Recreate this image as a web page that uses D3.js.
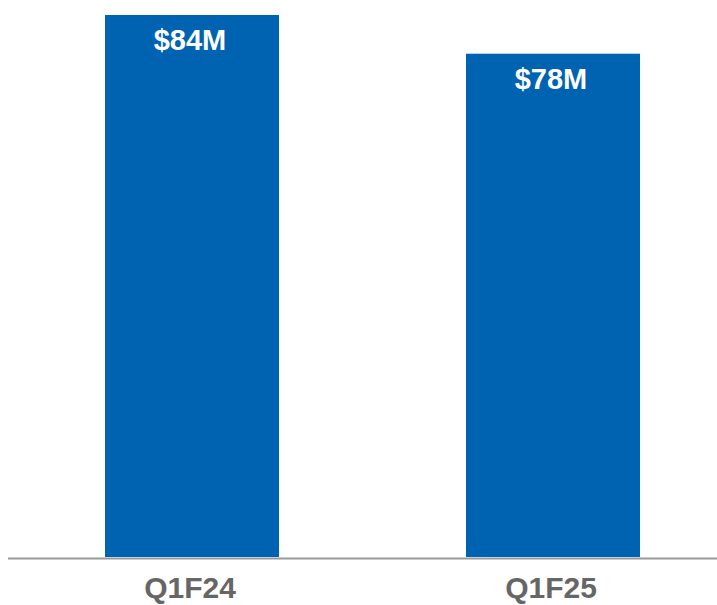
<!DOCTYPE html>
<html>
<head>
<meta charset="utf-8">
<script src="https://cdn.jsdelivr.net/npm/d3@7"></script>
<style>
  body { margin: 0; background: #fff; }
</style>
</head>
<body>
<script>
var categories = ["Q1F24", "Q1F25"];
var values = [84, 78];
var valueLabels = ["$84M", "$78M"];

var width = 717, height = 605;
var baseline = 557;

var svg = d3.select("body").append("svg")
    .attr("width", width)
    .attr("height", height);

var x = d3.scaleBand()
    .domain(categories)
    .range([0, 745])
    .paddingInner(0.518)
    .paddingOuter(0.2909);

var y = d3.scaleLinear()
    .domain([0, 84])
    .range([baseline, 15]);

// Bars
svg.selectAll(".bar")
    .data(values)
    .enter()
    .append("rect")
    .attr("class", "bar")
    .attr("x", function(d, i) { return x(categories[i]); })
    .attr("y", function(d) { return y(d); })
    .attr("width", x.bandwidth())
    .attr("height", function(d) { return baseline - y(d); })
    .attr("fill", "#0063b1");

// Value labels inside bars
svg.selectAll(".value")
    .data(values)
    .enter()
    .append("text")
    .attr("class", "value")
    .attr("x", function(d, i) { return x(categories[i]) + x.bandwidth() / 2 - 2; })
    .attr("y", function(d) { return y(d) + 35; })
    .attr("text-anchor", "middle")
    .style("font-family", "'Liberation Sans', Arial, sans-serif")
    .style("font-weight", "bold")
    .style("font-size", "29px")
    .style("fill", "#fff")
    .text(function(d, i) { return valueLabels[i]; });

// Baseline axis
svg.append("line")
    .attr("x1", 8)
    .attr("x2", width)
    .attr("y1", baseline + 1.5)
    .attr("y2", baseline + 1.5)
    .attr("stroke", "#999")
    .attr("stroke-width", 2);

// Category labels
svg.selectAll(".cat")
    .data(categories)
    .enter()
    .append("text")
    .attr("class", "cat")
    .attr("x", function(d) { return x(d) + x.bandwidth() / 2 - 2; })
    .attr("y", 598)
    .attr("text-anchor", "middle")
    .style("font-family", "'Liberation Sans', Arial, sans-serif")
    .style("font-weight", "bold")
    .style("font-size", "30px")
    .style("fill", "#666")
    .text(function(d) { return d; });
</script>
</body>
</html>
